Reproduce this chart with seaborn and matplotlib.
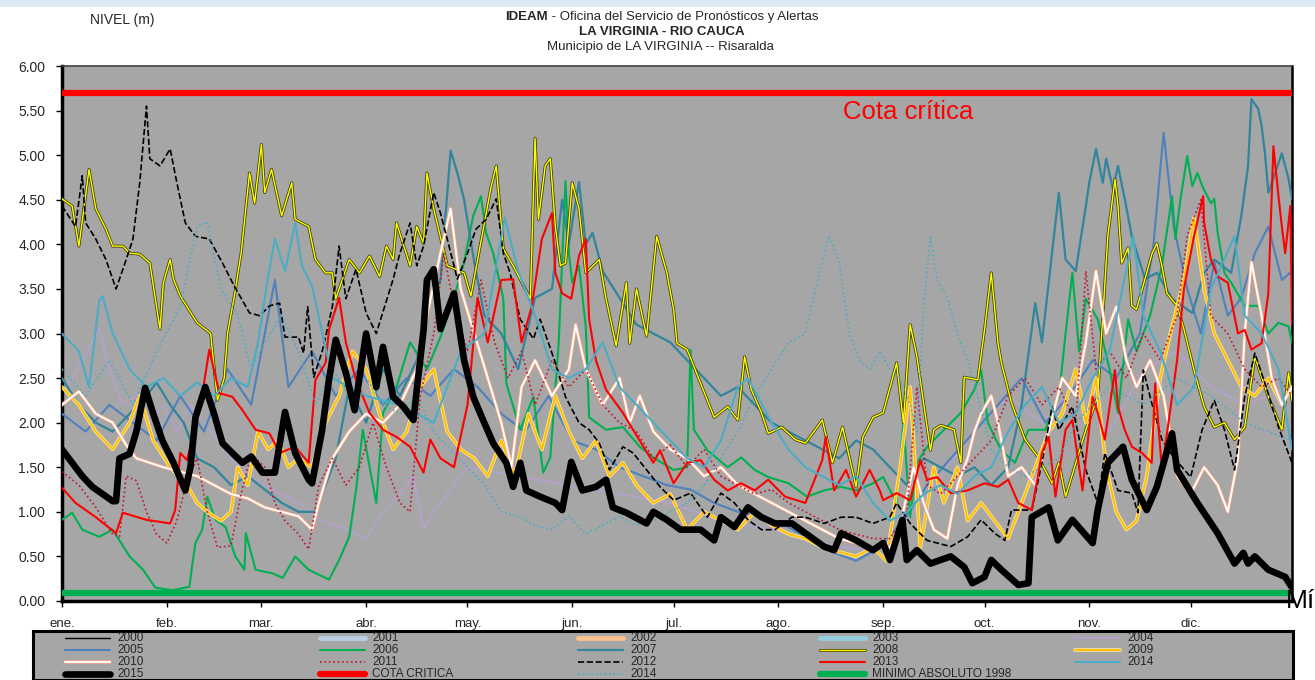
import numpy as np
import matplotlib
matplotlib.use('Agg')
import matplotlib.pyplot as plt
import matplotlib.patheffects as pe
from matplotlib.lines import Line2D
from matplotlib.patches import Rectangle
import seaborn as sns

sns.set_theme(style='white')
plt.rcParams['font.family'] = ['Liberation Sans', 'DejaVu Sans']

# Niveles diarios: (dia del año, nivel en m)
y2004 = [(0, 2.3), (6, 2.7), (11, 3.05), (14, 2.6), (18, 2.2), (22, 2.3), (26, 2.0), (30, 2.2), (34, 1.9),
         (38, 2.2), (42, 2.0), (46, 1.8), (50, 1.6), (55, 1.4), (60, 1.3), (65, 1.2), (70, 1.1), (75, 0.95),
         (80, 0.85), (85, 0.8), (90, 0.7), (95, 1.0), (100, 1.2), (104, 1.4), (107, 0.8), (110, 1.0),
         (120, 1.5), (135, 1.4), (150, 1.3), (165, 1.2), (180, 1.1), (195, 0.9), (210, 0.8), (225, 0.65),
         (240, 0.55), (250, 0.9), (260, 1.4), (270, 1.9), (280, 2.3), (290, 2.0), (300, 2.4), (310, 1.9),
         (320, 2.6), (330, 2.8), (340, 2.4), (350, 2.2), (364, 2.4)]

y2005 = [(0, 2.1), (7, 1.9), (14, 2.2), (21, 2.0), (28, 1.8), (35, 2.3), (42, 1.9), (49, 2.6), (56, 2.2),
         (63, 3.6), (67, 2.4), (74, 2.8), (81, 2.3), (88, 2.6), (95, 2.2), (102, 2.5), (109, 2.3), (116, 2.6),
         (123, 2.4), (130, 2.1), (137, 1.9), (144, 2.3), (151, 1.8), (158, 1.7), (165, 1.5), (172, 1.4),
         (179, 1.3), (186, 1.25), (193, 1.1), (200, 1.0), (207, 0.95), (214, 0.85), (221, 0.7), (228, 0.55),
         (235, 0.45), (242, 0.6), (249, 0.9), (256, 1.3), (263, 1.6), (270, 1.9), (277, 2.2), (284, 2.5),
         (291, 2.0), (298, 2.3), (305, 2.7), (312, 2.5), (319, 3.0), (323, 4.0), (326, 5.25), (329, 4.2),
         (333, 3.5), (337, 3.0), (341, 3.8), (345, 3.2), (349, 3.4), (353, 3.9), (357, 4.2), (361, 3.6),
         (364, 3.7)]

y2006 = [(0, 0.91), (3, 0.99), (6, 0.80), (11, 0.72), (15, 0.80), (20, 0.50), (24, 0.35), (27.6, 0.15),
         (32.6, 0.12), (37.7, 0.16), (38.6, 0.42), (39.5, 0.65), (41.5, 0.80), (43, 1.17), (45.4, 0.91),
         (48.4, 0.83), (51.3, 0.50), (54, 0.35), (54.4, 0.76), (57.3, 0.35), (62.3, 0.31), (65.3, 0.26),
         (69, 0.50), (73, 0.35), (79, 0.24), (82, 0.46), (85, 0.72), (87, 1.24), (89, 1.92), (93, 1.10),
         (95, 2.11), (99, 2.4), (103, 2.9), (108, 2.6), (112, 2.96), (116, 3.4), (119, 3.8), (121.7, 4.32),
         (124, 4.54), (125.5, 4.13), (127.6, 3.90), (130.6, 3.39), (131.5, 2.44), (135.6, 1.92),
         (139.5, 2.29), (142.4, 1.44), (144.5, 1.61), (147, 2.9), (149, 4.71), (150, 3.90), (151, 3.57),
         (153, 3.76), (155, 3.08), (156, 2.06), (161, 1.92), (166, 1.95), (171, 1.73), (175, 1.61),
         (181, 1.47), (185, 1.5), (186, 2.82), (187, 1.92), (191, 1.69), (197, 1.50), (201, 1.61),
         (205, 1.47), (209, 1.39), (215, 1.32), (220.5, 1.17), (225.5, 1.24), (230.6, 1.28), (235, 1.24),
         (240, 1.32), (243, 1.39), (247, 1.10), (249, 2.00), (251, 0.94), (253, 1.55), (256, 1.73),
         (261, 1.92), (266, 2.11), (270, 2.37), (272, 2.59), (274, 2.00), (276, 1.84), (278, 1.69),
         (282, 1.55), (286, 1.92), (291, 1.92), (295, 2.29), (297, 3.0), (299, 3.68), (301, 2.8),
         (303, 3.39), (306.5, 3.16), (310, 2.6), (312.5, 2.11), (315.5, 3.16), (318, 2.8), (322, 3.2),
         (325.5, 3.76), (328.5, 4.54), (329.5, 4.06), (331, 4.51), (333, 4.99), (334.5, 4.65), (336, 4.80),
         (337.5, 4.65), (340, 4.46), (341, 4.51), (342, 4.13), (344, 3.68), (346, 3.57), (350, 3.31),
         (354, 3.31), (357, 3.0), (360, 3.12), (363, 3.08), (364, 2.9)]

y2007 = [(0, 2.5), (5, 2.2), (10, 2.0), (15, 1.9), (20, 2.1), (25, 2.3), (28, 2.45), (32, 2.2), (36, 2.0),
         (40, 1.6), (45, 1.5), (50, 1.3), (55, 1.4), (60, 1.25), (65, 1.1), (70, 1.0), (75, 1.0), (78, 1.3),
         (81, 1.6), (85, 2.4), (90, 2.0), (95, 2.6), (100, 2.3), (105, 2.7), (108, 3.3), (112, 3.6),
         (115, 5.05), (117, 4.8), (119, 4.5), (122, 3.8), (125, 3.2), (130, 3.0), (135, 2.6), (140, 3.4),
         (145, 3.5), (148, 4.5), (150, 4.0), (153, 4.7), (155, 4.0), (157, 4.13), (160, 3.7), (165, 3.4),
         (170, 3.1), (175, 3.0), (180, 2.9), (185, 2.7), (190, 2.5), (195, 2.3), (200, 2.4), (205, 2.2),
         (210, 2.0), (215, 1.9), (220, 1.8), (225, 1.7), (230, 1.6), (235, 1.8), (240, 1.7), (245, 1.5),
         (250, 1.3), (255, 1.6), (260, 1.5), (265, 1.4), (270, 1.5), (275, 1.3), (280, 1.5), (284, 2.2),
         (288, 3.34), (290, 2.9), (292, 3.57), (295, 4.58), (297, 3.83), (300, 3.7), (303, 4.43),
         (304, 4.69), (306, 5.07), (308, 4.69), (309, 4.96), (311, 4.62), (312.5, 4.88), (314.5, 4.51),
         (316.6, 4.09), (320.5, 3.61), (324, 3.68), (328.5, 3.39), (334.5, 3.23), (338, 3.68), (341, 3.83),
         (346, 3.68), (349, 4.32), (351, 4.88), (352, 5.63), (354, 5.52), (355, 5.33), (356, 5.02),
         (357, 4.58), (359, 4.80), (361, 5.02), (363, 4.73), (364, 4.51)]

y2008 = [(0, 4.51), (3, 4.43), (5, 3.98), (8, 4.84), (10, 4.40), (13, 4.17), (15, 3.98), (18, 3.98),
         (20, 3.90), (23, 3.89), (26, 3.79), (29, 3.05), (30, 3.57), (32, 3.83), (33, 3.61), (35, 3.42),
         (40, 3.12), (44, 3.0), (46, 2.25), (48, 2.5), (49, 3.0), (51, 3.42), (53, 3.90), (55.5, 4.80),
         (57, 4.46), (59, 5.12), (60, 4.58), (62, 4.84), (65, 4.32), (68, 4.69), (69, 4.28), (73, 4.20),
         (75, 3.83), (78, 3.68), (80, 3.68), (81, 3.39), (85, 3.83), (88, 3.68), (91, 3.87), (94, 3.64),
         (96, 3.98), (98, 3.83), (99, 4.24), (103, 3.76), (105, 4.20), (107, 4.01), (108, 4.80), (110, 4.40),
         (114, 3.76), (119, 3.68), (121, 3.42), (127, 4.65), (128.5, 4.88), (130.6, 3.95), (133.5, 3.76),
         (138.6, 3.39), (140, 5.19), (141, 4.28), (143, 4.88), (144.5, 4.96), (146, 4.20), (147.5, 3.76),
         (149, 3.79), (151, 4.69), (153, 4.40), (155, 3.68), (159, 3.83), (161, 3.39), (164, 2.86),
         (167, 3.57), (168, 2.89), (170, 3.50), (173, 2.97), (176, 4.09), (179, 3.68), (181, 3.27),
         (182, 2.89), (185, 2.82), (189, 2.44), (193, 2.06), (197, 2.18), (200, 2.03), (202, 2.74),
         (204, 2.37), (207, 2.11), (209, 1.88), (213, 1.95), (217, 1.81), (220, 1.77), (225, 2.03),
         (228, 1.55), (231, 1.95), (235, 1.28), (237, 1.84), (240, 2.06), (243, 2.11), (247, 2.67),
         (249, 2.00), (251, 3.10), (253, 2.74), (257, 1.69), (258, 1.92), (260, 1.97), (264, 1.92),
         (266, 1.55), (267, 2.51), (271, 2.48), (273, 3.04), (275, 3.68), (277, 2.89), (278, 2.67),
         (281, 2.22), (285, 1.81), (289, 1.61), (293, 1.32), (295, 1.55), (297, 1.17), (303, 1.92),
         (306.5, 2.29), (309.5, 4.09), (311.6, 4.73), (312.5, 4.43), (313.6, 3.79), (315.5, 3.96),
         (316.6, 3.31), (318, 3.27), (322.6, 3.90), (324, 4.01), (325.5, 3.76), (327, 3.45), (330, 3.31),
         (332, 3.05), (335, 2.59), (338, 2.18), (341, 1.95), (344, 2.00), (347, 1.81), (350, 1.95),
         (353, 2.74), (357, 2.29), (361, 1.92), (363, 2.56), (364, 2.25)]

y2009 = [(0, 2.4), (5, 2.2), (10, 1.9), (15, 1.7), (20, 2.0), (23, 2.3), (27, 1.8), (32, 1.5), (37, 1.3),
         (40, 1.1), (43, 1.0), (47, 0.9), (50, 1.0), (52, 1.5), (55, 1.3), (58, 1.9), (61, 1.7), (64, 1.8),
         (67, 1.5), (70, 1.6), (74, 1.5), (78, 2.0), (82, 2.3), (86, 2.8), (90, 2.6), (94, 2.1), (98, 1.7),
         (102, 1.9), (106, 2.4), (110, 2.6), (114, 1.9), (118, 1.7), (122, 1.6), (126, 1.4), (130, 1.8),
         (134, 1.4), (138, 2.1), (142, 1.7), (146, 2.3), (150, 1.9), (154, 1.6), (158, 1.8), (162, 1.4),
         (166, 1.55), (170, 1.3), (175, 1.1), (180, 1.2), (185, 0.8), (190, 1.0), (195, 0.9), (200, 0.8),
         (205, 1.0), (210, 0.85), (215, 0.75), (220, 0.7), (225, 0.6), (230, 0.55), (235, 0.5), (240, 0.6),
         (244, 0.45), (248, 1.5), (251, 2.4), (254, 0.6), (258, 1.5), (261, 1.1), (265, 1.5), (268, 0.9),
         (272, 1.1), (276, 0.9), (280, 0.7), (284, 1.1), (288, 1.5), (292, 1.9), (296, 2.1), (300, 2.6),
         (303, 2.0), (306, 2.5), (309, 1.5), (312, 1.0), (315, 0.8), (318, 0.9), (321, 1.4), (325, 2.5),
         (328, 3.0), (332, 3.6), (335, 4.3), (338, 3.5), (341, 3.0), (345, 2.7), (349, 2.4), (353, 2.3),
         (357, 2.5), (361, 2.2), (364, 2.4)]

y2010 = [(0, 2.2), (5, 2.35), (10, 2.1), (15, 2.0), (19, 1.75), (22, 1.6), (30, 1.5), (40, 1.4), (45, 1.3),
         (50, 1.2), (55, 1.15), (60, 1.05), (65, 1.0), (70, 0.95), (74, 0.8), (76, 1.1), (80, 1.6), (85, 1.9),
         (90, 2.1), (95, 2.0), (100, 2.2), (105, 2.6), (108, 3.2), (112, 3.9), (115, 4.4), (118, 3.5),
         (122, 3.0), (126, 2.5), (130, 2.0), (133, 1.5), (136, 2.4), (140, 2.7), (145, 2.3), (150, 2.6),
         (152, 3.1), (155, 2.6), (160, 2.2), (165, 2.5), (168, 2.0), (171, 2.3), (175, 1.9), (180, 1.7),
         (185, 1.6), (190, 1.4), (195, 1.5), (200, 1.3), (205, 1.2), (210, 1.1), (215, 1.0), (220, 0.9),
         (225, 0.8), (230, 0.7), (235, 0.65), (240, 0.6), (245, 0.6), (248, 0.85), (252, 1.5), (255, 1.1),
         (258, 0.8), (262, 0.7), (265, 1.3), (268, 1.6), (270, 1.9), (272, 2.1), (275, 2.3), (277, 2.0),
         (280, 1.4), (284, 1.5), (288, 1.3), (292, 1.9), (296, 2.5), (300, 2.3), (303, 2.9), (306, 3.7),
         (309, 3.0), (312, 3.3), (315, 2.7), (318, 2.4), (322, 2.7), (326, 2.3), (330, 1.4), (334, 1.2),
         (338, 1.5), (342, 1.3), (345, 1.0), (348, 1.6), (350, 3.0), (352, 3.8), (355, 3.2), (358, 2.5),
         (361, 2.2), (364, 2.4)]

y2011 = [(0, 1.45), (5, 1.3), (10, 1.05), (15, 0.75), (17, 0.72), (19, 1.4), (22, 1.35), (25, 1.0),
         (28, 0.75), (31, 0.65), (34, 0.9), (37, 1.35), (40, 1.6), (43, 1.0), (46, 0.6), (50, 0.62),
         (53, 1.2), (56, 1.65), (60, 1.5), (63, 1.1), (66, 0.9), (70, 0.75), (73, 0.58), (76, 1.3), (80, 1.6),
         (84, 1.3), (88, 1.5), (92, 2.0), (96, 1.5), (100, 1.1), (103, 1.0), (106, 2.3), (110, 3.0),
         (113, 3.9), (116, 3.3), (120, 2.8), (124, 3.6), (128, 2.9), (132, 2.5), (136, 2.8), (140, 2.2),
         (145, 2.7), (150, 2.4), (155, 2.6), (160, 2.2), (165, 2.0), (170, 1.9), (175, 1.6), (180, 1.75),
         (185, 1.5), (190, 1.7), (195, 1.4), (200, 1.3), (205, 1.2), (210, 1.25), (215, 1.1), (220, 1.0),
         (225, 0.9), (230, 0.8), (235, 0.75), (240, 0.7), (245, 0.7), (250, 1.0), (253, 2.4), (256, 1.3),
         (260, 1.2), (265, 1.4), (270, 1.6), (275, 1.8), (280, 2.3), (285, 2.5), (290, 2.2), (295, 2.4),
         (300, 2.0), (303, 3.7), (306, 2.6), (310, 2.8), (315, 2.5), (320, 3.0), (325, 2.7), (330, 3.2),
         (333, 4.1), (337, 4.5), (340, 3.2), (345, 3.0), (350, 2.6), (355, 2.4), (360, 2.5), (364, 2.3)]

y2012 = [(0, 4.43), (4, 4.20), (6, 4.77), (7, 4.24), (10, 4.06), (13, 3.83), (16, 3.50), (19, 3.83),
         (21, 4.06), (23, 4.69), (25, 5.55), (26, 4.96), (29, 4.88), (32, 5.07), (34, 4.69), (36.5, 4.24),
         (39.5, 4.09), (43.6, 4.06), (47.5, 3.79), (51, 3.53), (55.5, 3.23), (58.5, 3.20), (61.4, 3.31),
         (64.4, 3.34), (66, 2.96), (70, 2.96), (71.5, 2.78), (72.7, 3.30), (74.5, 2.51), (77, 2.8), (80, 3.3),
         (82, 3.98), (84, 3.39), (87, 3.72), (90, 3.23), (93, 3.00), (98, 3.61), (100, 3.90), (103, 4.24),
         (105, 3.76), (107, 3.98), (110, 4.58), (112, 4.35), (114, 4.06), (117, 3.61), (120, 3.90),
         (122.5, 4.17), (125.5, 4.28), (128.5, 4.51), (130.6, 3.90), (132.6, 3.68), (135.6, 3.16),
         (139.5, 2.94), (141.5, 3.16), (144, 2.89), (146, 2.67), (149, 2.29), (153, 2.00), (156, 1.92),
         (159, 1.77), (162, 1.47), (166, 1.73), (169, 1.66), (173, 1.47), (177, 1.28), (181, 1.13),
         (186, 1.21), (191, 0.94), (195, 1.21), (199, 1.10), (203, 0.91), (207, 0.80), (211, 0.80),
         (216, 0.94), (220, 0.94), (225.5, 0.87), (230.6, 0.94), (235, 0.94), (240, 0.87), (245, 0.94),
         (247, 1.10), (251, 0.87), (256, 0.68), (263, 0.61), (268, 0.72), (272, 0.91), (276, 0.76),
         (279, 0.68), (281, 1.02), (287, 1.02), (290, 1.55), (293, 2.18), (295, 1.92), (299, 2.18),
         (303, 1.47), (306.5, 1.10), (308.6, 1.66), (312.5, 1.24), (316.6, 1.21), (318.4, 0.99),
         (320, 2.59), (322.5, 2.22), (325.5, 1.81), (329, 1.61), (334, 1.39), (337.4, 1.92), (341, 2.25),
         (344, 1.92), (347, 1.47), (350, 2.29), (353, 2.78), (356, 2.44), (360, 1.95), (364, 1.55)]

y2013 = [(0, 1.27), (4, 1.10), (10, 0.94), (16, 0.76), (18, 0.99), (25, 0.91), (32, 0.87), (33.5, 1.02),
         (35, 1.66), (37, 1.58), (41, 2.2), (43.6, 2.82), (44.5, 2.67), (46.6, 2.33), (50.4, 2.29),
         (53.4, 2.14), (57.3, 1.92), (61.4, 1.88), (64.4, 1.66), (69, 1.73), (73, 1.55), (75, 2.48),
         (78, 2.67), (79, 3.04), (82, 3.4), (84, 2.9), (87, 2.48), (91, 2.11), (95, 1.92), (99, 1.84),
         (103, 1.73), (107, 1.44), (109, 1.81), (112, 1.6), (116, 1.5), (120, 2.2), (123, 3.4), (126, 2.9),
         (130, 3.6), (133.5, 3.61), (136, 2.9), (139, 3.3), (142, 4.06), (145, 4.35), (146, 3.68),
         (148, 3.45), (150.7, 3.39), (153, 3.87), (155, 4.06), (156, 3.16), (158, 2.7), (161, 2.37),
         (166, 2.11), (169, 1.92), (175, 1.55), (177, 1.69), (181, 1.32), (185, 1.55), (189, 1.58),
         (193, 1.36), (197, 1.24), (201, 1.32), (205, 1.24), (209, 1.36), (214, 1.17), (220, 1.10),
         (225, 1.58), (226, 1.84), (228.5, 1.24), (232, 1.47), (235, 1.17), (239, 1.47), (242, 1.24),
         (243, 1.13), (247, 1.21), (251, 1.13), (254, 1.58), (256, 1.36), (259, 1.39), (263, 1.21),
         (268, 1.24), (273, 1.32), (277, 1.28), (280, 1.36), (283, 1.10), (287, 1.02), (290, 1.66),
         (292, 1.84), (294, 1.17), (297, 1.92), (299, 2.03), (302, 1.24), (305, 2.29), (306.5, 2.11),
         (308.6, 1.81), (311.6, 2.59), (312.5, 2.18), (314.5, 1.92), (316.6, 1.73), (319.6, 1.66),
         (322.5, 1.55), (323.5, 2.44), (325.5, 1.47), (328.5, 2.29), (330, 2.70), (332, 3.5), (335, 4.09),
         (337.7, 4.54), (338, 4.24), (340, 3.83), (342, 3.64), (345, 3.57), (348, 3.0), (350, 3.04),
         (352, 2.82), (355, 2.89), (357, 3.45), (358.5, 5.10), (360, 4.54), (361, 4.20), (362, 3.90),
         (363.5, 4.43), (364, 3.1)]

y2014 = [(0, 3.0), (5, 2.8), (8, 2.4), (11, 3.37), (12, 3.42), (15, 3.0), (20, 2.6), (25, 2.4), (30, 2.5),
         (35, 2.3), (40, 2.45), (45, 2.3), (50, 2.5), (55, 2.4), (58, 2.9), (61, 3.64), (63, 4.06),
         (66, 3.7), (69, 4.24), (71, 3.76), (74, 3.53), (80, 2.5), (90, 2.3), (100, 2.2), (110, 2.0),
         (118, 2.8), (125, 3.0), (131, 4.3), (135, 3.7), (140, 3.2), (145, 2.6), (150, 2.5), (155, 2.6),
         (160, 2.9), (165, 2.4), (170, 2.2), (175, 2.0), (180, 1.8), (185, 1.6), (190, 1.5), (195, 1.8),
         (200, 2.4), (203, 2.5), (210, 2.0), (215, 1.7), (220, 1.5), (225, 1.4), (230, 1.3), (235, 1.4),
         (240, 1.1), (245, 0.9), (250, 1.0), (255, 1.2), (260, 1.3), (265, 1.2), (270, 1.4), (275, 1.5),
         (280, 1.9), (285, 2.2), (290, 2.4), (295, 2.0), (300, 2.1), (305, 2.5), (310, 2.8), (317, 4.09),
         (320, 3.2), (325, 2.8), (330, 2.2), (335, 2.4), (340, 3.5), (347, 4.09), (350, 3.2), (355, 3.0),
         (360, 2.6), (364, 1.7)]

y2014_pts = [(0, 2.6), (7, 2.3), (14, 2.7), (21, 2.2), (28, 2.8), (35, 3.3), (40, 4.2), (43, 4.25),
             (47, 3.5), (52, 3.2), (56, 2.6), (60, 2.9), (65, 3.2), (70, 2.8), (75, 2.2), (80, 2.6), (85, 2.3),
             (90, 2.5), (95, 2.2), (100, 2.1), (105, 2.3), (110, 1.9), (115, 1.7), (120, 1.5), (125, 1.3),
             (130, 1.0), (135, 0.95), (140, 0.85), (145, 0.8), (150, 0.95), (155, 0.75), (160, 0.85),
             (165, 0.95), (170, 0.85), (175, 0.9), (180, 1.0), (185, 1.1), (190, 1.3), (195, 1.6), (200, 1.9),
             (205, 2.3), (210, 2.6), (215, 2.9), (220, 3.0), (223, 3.5), (227, 4.1), (230, 3.8), (233, 3.0),
             (236, 2.7), (239, 2.6), (242, 2.8), (245, 2.6), (248, 2.5), (251, 2.2), (253, 1.9), (255, 3.3),
             (257, 4.1), (259, 3.6), (262, 3.4), (265, 3.0), (268, 2.7), (271, 2.3), (275, 1.7), (280, 1.5),
             (285, 1.4), (295, 1.6), (300, 2.0), (310, 2.4), (320, 2.2), (330, 2.5), (340, 2.3), (350, 2.0),
             (364, 1.8)]

y2015 = [(0, 1.70), (3, 1.55), (6, 1.40), (9, 1.28), (12, 1.20), (15, 1.12), (16, 1.12), (17, 1.60),
         (20, 1.65), (22, 1.90), (24.6, 2.39), (27, 2.10), (29.7, 1.80), (33, 1.55), (36.5, 1.24), (38, 1.50),
         (39.5, 2.06), (42.4, 2.40), (45, 2.10), (47.5, 1.77), (50.4, 1.66), (53.4, 1.55), (56, 1.62),
         (59.3, 1.44), (63, 1.44), (66, 2.12), (69, 1.66), (73, 1.36), (74, 1.32), (77, 1.92), (79, 2.48),
         (81, 2.93), (84, 2.56), (86.6, 2.14), (90, 3.00), (93, 2.40), (95, 2.85), (98, 2.29), (101, 2.18),
         (104, 2.03), (107, 3.04), (108, 3.60), (110, 3.72), (112, 3.05), (116, 3.45), (119, 2.70),
         (121.7, 2.29), (124.6, 2.03), (127.6, 1.77), (131.5, 1.55), (133.5, 1.28), (135.6, 1.55),
         (137.4, 1.24), (141.5, 1.17), (146, 1.10), (148, 1.02), (150.7, 1.56), (154, 1.24), (158, 1.28),
         (161, 1.36), (163, 1.05), (167, 0.99), (173, 0.87), (175, 1.00), (179, 0.91), (183, 0.80),
         (189, 0.80), (193, 0.68), (195, 0.94), (199, 0.83), (203, 1.05), (207, 0.94), (211, 0.87),
         (216, 0.87), (220, 0.76), (225.5, 0.61), (228.5, 0.57), (230.6, 0.76), (235, 0.68), (240, 0.57),
         (243, 0.65), (245, 0.46), (248.7, 0.91), (250, 0.46), (253, 0.57), (257, 0.42), (263, 0.50),
         (267, 0.38), (269.4, 0.20), (273, 0.27), (275, 0.46), (278, 0.35), (283, 0.18), (286, 0.20),
         (287, 0.94), (292, 1.05), (294.7, 0.68), (299, 0.91), (305, 0.65), (306.5, 1.02), (309.5, 1.55),
         (314, 1.73), (316.6, 1.36), (321, 1.02), (324, 1.28), (328.5, 1.88), (330, 1.47), (336, 1.10),
         (342, 0.76), (347, 0.42), (349.6, 0.54), (351, 0.42), (353, 0.50), (357, 0.35), (362, 0.27),
         (364, 0.15)]

COTA_CRITICA = 5.70
MINIMO_1998 = 0.09

MONTH_DAYS = [0, 31, 59, 90, 120, 151, 181, 212, 243, 273, 304, 334]
MONTH_LABELS = ['ene.', 'feb.', 'mar.', 'abr.', 'may.', 'jun.', 'jul.', 'ago.', 'sep.', 'oct.', 'nov.', 'dic.']

# Estilos de las series (como en el grafico original de Excel)
STYLES = {
    '2000': dict(color='black', lw=1.0),
    '2001': dict(color='#B9CDE5', lw=3.5),
    '2002': dict(color='#FAC090', lw=3.5),
    '2003': dict(color='#93CDDD', lw=3.5),
    '2004': dict(color='#B3A2C7', lw=1.5),
    '2005': dict(color='#4F81BD', lw=1.5),
    '2006': dict(color='#00B050', lw=1.5),
    '2007': dict(color='#31859C', lw=1.6),
    '2008': dict(color='#FFFF00', lw=1.0, path_effects=[pe.Stroke(linewidth=2.1, foreground='#3A3A00'), pe.Normal()]),
    '2009': dict(color='#FFC000', lw=1.5, path_effects=[pe.Stroke(linewidth=2.6, foreground='#FFE9B0'), pe.Normal()]),
    '2010': dict(color='white', lw=1.4, path_effects=[pe.Stroke(linewidth=2.6, foreground='#F4A582'), pe.Normal()]),
    '2011': dict(color='#C8102E', lw=1.2, ls=':'),
    '2012': dict(color='black', lw=1.2, ls='--'),
    '2013': dict(color='#FF0000', lw=1.5),
    '2014': dict(color='#4BACC6', lw=1.5),
    '2014p': dict(color='#4BACC6', lw=1.2, ls=':'),
    '2015': dict(color='black', lw=4.8),
}

series = [('2004', y2004), ('2005', y2005), ('2006', y2006), ('2007', y2007), ('2008', y2008),
          ('2009', y2009), ('2010', y2010), ('2011', y2011), ('2012', y2012), ('2013', y2013),
          ('2014', y2014), ('2014p', y2014_pts), ('2015', y2015)]

W, H = 1315, 680
fig = plt.figure(figsize=(W / 100, H / 100), dpi=100)
fig.patch.set_facecolor('white')
fig.add_artist(Rectangle((0, 1 - 7 / H), 1, 7 / H, transform=fig.transFigure, color='#DCE9F4', lw=0))

ax = fig.add_axes([62 / W, 1 - 601 / H, (1292 - 62) / W, (601 - 66) / H])
ax.set_facecolor('#A6A6A6')

for z, (key, pts) in enumerate(series):
    st = dict(STYLES[key])
    days, vals = zip(*pts)
    sns.lineplot(x=list(days), y=list(vals), ax=ax, sort=False, estimator=None,
                 color=st['color'], linewidth=st['lw'], linestyle=st.get('ls', '-'),
                 path_effects=st.get('path_effects'), zorder=2 + z,
                 solid_joinstyle='round', solid_capstyle='round')

ax.axhline(COTA_CRITICA, color='#FF0000', lw=4.5, zorder=30)
ax.axhline(MINIMO_1998, color='#00B050', lw=4.5, zorder=30)

ax.text(231, 5.48, 'Cota crítica', color='#FF0000', fontsize=18.5, va='center', ha='left', zorder=31)
ax.text(362.3, 0.0, 'Mí', color='black', fontsize=19, va='center', ha='left',
        clip_on=False, zorder=31)

ax.set_xlim(0, 364)
ax.set_ylim(0, 6)
ax.set_xticks(MONTH_DAYS)
ax.set_xticklabels(MONTH_LABELS)
ax.set_yticks(np.arange(0, 6.01, 0.5))
ax.set_yticklabels([f'{v:.2f}' for v in np.arange(0, 6.01, 0.5)])
ax.tick_params(axis='both', which='both', direction='out', length=4, width=1, color='black',
               labelsize=10, bottom=True, left=True)
ax.tick_params(axis='y', pad=8)
ax.tick_params(axis='x', labelsize=9.5, pad=8)
for side, lw, col in [('left', 2.5, 'black'), ('bottom', 2.5, 'black'), ('right', 1.8, 'black'), ('top', 1.2, '#404040')]:
    ax.spines[side].set_visible(True)
    ax.spines[side].set_linewidth(lw)
    ax.spines[side].set_color(col)
ax.set_xlabel('')
ax.set_ylabel('')

# Titulos
fig.text(90 / W, 1 - 20 / H, 'NIVEL (m)', fontsize=10, va='center', ha='left')
fig.text(548 / W, 1 - 17 / H, 'IDEAM', fontsize=9.5, fontweight='bold', va='center', ha='right')
fig.text(548 / W, 1 - 17 / H, ' - Oficina del Servicio de Pronósticos y Alertas', fontsize=9.5, va='center', ha='left')
fig.text(662 / W, 1 - 32 / H, 'LA VIRGINIA - RIO CAUCA', fontsize=9.5, fontweight='bold', va='center', ha='center')
fig.text(660 / W, 1 - 47 / H, 'Municipio de LA VIRGINIA -- Risaralda', fontsize=9.5, va='center', ha='center')

# Leyenda (rejilla de 5 columnas x 4 filas como en Excel)
fig.add_artist(Rectangle((33 / W, 0), (1293 - 33) / W, (681 - 632) / H, transform=fig.transFigure,
                         facecolor='#A6A6A6', edgecolor='black', lw=2.2, zorder=1))
legend_rows = [['2000', '2001', '2002', '2003', '2004'],
               ['2005', '2006', '2007', '2008', '2009'],
               ['2010', '2011', '2012', '2013', '2014'],
               ['2015', 'COTA CRITICA', '2014p', 'MINIMO ABSOLUTO 1998', None]]
col_x = [65, 320, 578, 820, 1075]
row_y = [638, 650, 662, 674]
extra = {'COTA CRITICA': dict(color='#FF0000', lw=4.5), 'MINIMO ABSOLUTO 1998': dict(color='#00B050', lw=4.5)}
for r, row in enumerate(legend_rows):
    for c, key in enumerate(row):
        if key is None:
            continue
        st = STYLES.get(key, extra.get(key))
        yy = 1 - row_y[r] / H
        ln = Line2D([col_x[c] / W, (col_x[c] + 45) / W], [yy, yy], transform=fig.transFigure,
                    color=st['color'], lw=st['lw'], ls=st.get('ls', '-'),
                    path_effects=st.get('path_effects'), solid_capstyle='round', zorder=2)
        fig.add_artist(ln)
        label = '2014' if key == '2014p' else key
        fig.text((col_x[c] + 52) / W, yy, label, fontsize=8.5, va='center', ha='left', zorder=3)

fig.savefig('out.png', dpi=100)
